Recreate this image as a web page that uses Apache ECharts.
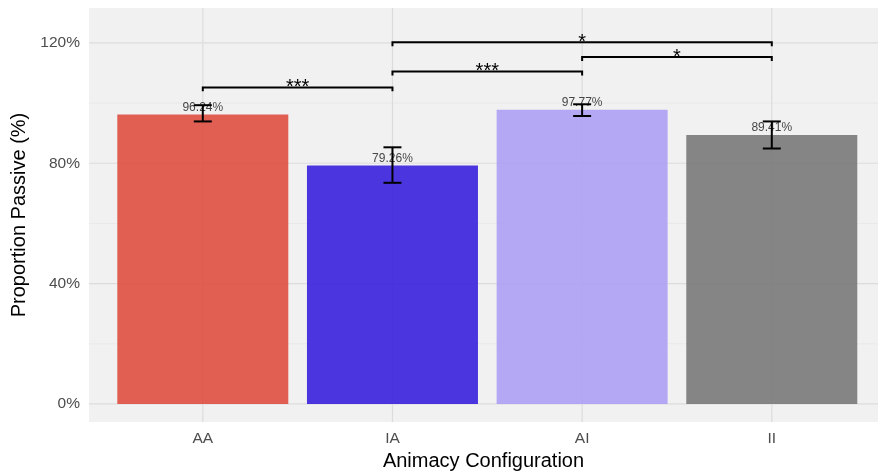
<!DOCTYPE html>
<html>
<head>
<meta charset="utf-8">
<title>Proportion Passive</title>
<script src="https://cdn.jsdelivr.net/npm/echarts@6/dist/echarts.min.js"></script>
<style>
  html, body { margin: 0; padding: 0; background: #fff; }
  #chart { width: 878px; height: 471px; }
</style>
</head>
<body>
<div id="chart"></div>
<script>
// bar data
var categories = ['AA', 'IA', 'AI', 'II'];
var passive = [96.24, 79.26, 97.77, 89.41];
var errLow = [93.9, 73.5, 95.7, 84.9];
var errHigh = [99.3, 85.3, 99.6, 93.9];
var barColors = ['#de4f40', '#3720dd', '#ada0f5', '#797979'];

// significance brackets (category index from / to, height in %)
var sigFrom = [0, 1, 2, 1];
var sigTo = [1, 2, 3, 3];
var sigY = [105.2, 110.5, 115.3, 120.2];
var sigText = ['***', '***', '*', '*'];

// axis ticks
var yTicks = [0, 40, 80, 120];
var yMinor = [20, 60, 100];
var xTicks = [0, 1, 2, 3];

var myChart = echarts.init(document.getElementById('chart'));

// grid lines drawn like ggplot (minor, then major)
var gridData = [];
yMinor.forEach(function (v) { gridData.push([0, v, 0]); });
yTicks.forEach(function (v) { gridData.push([0, v, 1]); });
xTicks.forEach(function (v) { gridData.push([v, 0, 2]); });

function renderGrid(params, api) {
    var cs = params.coordSys;
    var kind = api.value(2);
    if (kind === 2) {
        var px = api.coord([api.value(0), 0])[0];
        return { type: 'line', shape: { x1: px, y1: cs.y, x2: px, y2: cs.y + cs.height },
                 style: { stroke: '#dcdcdc', lineWidth: 1.2 } };
    }
    var py = api.coord([0, api.value(1)])[1];
    return { type: 'line', shape: { x1: cs.x, y1: py, x2: cs.x + cs.width, y2: py },
             style: { stroke: kind === 1 ? '#dcdcdc' : '#e9e9e9', lineWidth: kind === 1 ? 1.2 : 1 } };
}

function renderErr(params, api) {
    var hi = api.coord([api.value(0), api.value(2)]);
    var lo = api.coord([api.value(0), api.value(1)]);
    var cap = 9;
    var st = { stroke: '#000', lineWidth: 2 };
    return { type: 'group', children: [
        { type: 'line', shape: { x1: hi[0], y1: hi[1], x2: lo[0], y2: lo[1] }, style: st },
        { type: 'line', shape: { x1: hi[0] - cap, y1: hi[1], x2: hi[0] + cap, y2: hi[1] }, style: st },
        { type: 'line', shape: { x1: lo[0] - cap, y1: lo[1], x2: lo[0] + cap, y2: lo[1] }, style: st }
    ]};
}

function renderSig(params, api) {
    var a = api.coord([api.value(0), api.value(1)]);
    var b = api.coord([api.value(2), api.value(1)]);
    var drop = api.size([0, 1.3])[1];
    var idx = api.value(3);
    return { type: 'group', children: [
        { type: 'polyline',
          shape: { points: [[a[0], a[1] + drop], [a[0], a[1]], [b[0], b[1]], [b[0], b[1] + drop]] },
          style: { stroke: '#000', lineWidth: 2, fill: null } },
        { type: 'text', x: (a[0] + b[0]) / 2, y: a[1] - 10,
          style: { text: sigText[idx], align: 'center', verticalAlign: 'top',
                   fontSize: 20, fontFamily: 'Liberation Sans', fill: '#000' } }
    ]};
}

myChart.setOption({
    animation: false,
    textStyle: { fontFamily: 'Liberation Sans' },
    grid: {
        left: 89, right: 0, top: 8, bottom: 49,
        show: true, backgroundColor: '#f1f1f1', borderWidth: 0,
        containLabel: false, outerBoundsMode: 'none'
    },
    xAxis: {
        type: 'value', min: -0.6, max: 3.56,
        axisLine: { show: false }, axisTick: { show: false }, splitLine: { show: false },
        axisLabel: {
            customValues: xTicks,
            formatter: function (v) { return categories[Math.round(v)]; },
            color: '#4d4d4d', fontSize: 15.5, margin: 9
        },
        name: 'Animacy Configuration', nameLocation: 'middle', nameGap: 27,
        nameTextStyle: { fontSize: 20, color: '#000' }
    },
    yAxis: {
        type: 'value', min: -6, max: 131.6,
        axisLine: { show: false }, axisTick: { show: false }, splitLine: { show: false },
        axisLabel: {
            customValues: yTicks,
            formatter: function (v) { return v + '%'; },
            color: '#4d4d4d', fontSize: 15.5, margin: 9
        },
        name: 'Proportion Passive (%)', nameLocation: 'middle', nameGap: 56, nameRotate: 90,
        nameTextStyle: { fontSize: 20, color: '#000' }
    },
    series: [
        {
            type: 'custom', silent: true, z: 1,
            renderItem: renderGrid, data: gridData
        },
        {
            type: 'bar', z: 2, barWidth: 171,
            data: passive.map(function (v, i) {
                return { value: [i, v], itemStyle: { color: barColors[i], opacity: 0.9 } };
            }),
            label: {
                show: true, position: 'top', distance: 1,
                formatter: function (p) { return p.value[1].toFixed(2) + '%'; },
                color: '#333', fontSize: 12
            }
        },
        {
            type: 'custom', z: 3, renderItem: renderErr,
            data: passive.map(function (v, i) { return [i, errLow[i], errHigh[i]]; })
        },
        {
            type: 'custom', z: 4, renderItem: renderSig,
            data: sigFrom.map(function (f, i) { return [f, sigY[i], sigTo[i], i]; })
        }
    ]
});
</script>
</body>
</html>
